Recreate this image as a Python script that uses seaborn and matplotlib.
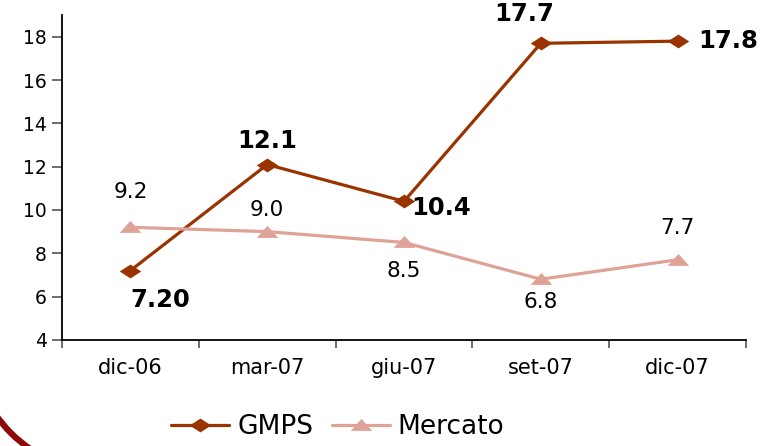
import numpy as np
import pandas as pd
import matplotlib
matplotlib.use('Agg')
import matplotlib.pyplot as plt
import seaborn as sns
from matplotlib.patches import Arc

categories = ['dic-06', 'mar-07', 'giu-07', 'set-07', 'dic-07']
gmps = [7.2, 12.1, 10.4, 17.7, 17.8]
mercato = [9.2, 9.0, 8.5, 6.8, 7.7]
gmps_labels = ['7.20', '12.1', '10.4', '17.7', '17.8']
mercato_labels = ['9.2', '9.0', '8.5', '6.8', '7.7']
y_ticks = [4, 6, 8, 10, 12, 14, 16, 18]

sns.set_theme(style='white')
plt.rcParams['font.family'] = ['DejaVu Sans']

df = pd.DataFrame({
    'periodo': categories * 2,
    'valore': gmps + mercato,
    'serie': ['GMPS'] * len(gmps) + ['Mercato'] * len(mercato),
})
df['x'] = df.groupby('serie').cumcount()

palette = {'GMPS': '#993300', 'Mercato': '#DFA296'}
# wide diamond / wide triangle (the original is stretched horizontally)
diamond = [(-1.55, 0), (0, 1), (1.55, 0), (0, -1), (-1.55, 0)]
triangle = [(-1.8, -0.9), (1.8, -0.9), (0, 1.1), (-1.8, -0.9)]

fig = plt.figure(figsize=(7.75, 4.46), dpi=100)
ax = fig.add_axes([0.08, 0.238, 0.8826, 0.728])

sns.lineplot(data=df, x='x', y='valore', hue='serie', style='serie',
             markers={'GMPS': diamond, 'Mercato': triangle}, dashes=False,
             palette=palette, linewidth=2.3, markersize=15.5,
             markeredgewidth=0, ax=ax)

ax.set_xlim(-0.5, 4.5)
ax.set_ylim(4, 19)
ax.set_yticks(y_ticks)
ax.set_yticklabels([str(t) for t in y_ticks], fontsize=13.5, color='black')
ax.set_xticks(range(len(categories)))
ax.set_xticklabels(categories, fontsize=15, color='black')
ax.tick_params(axis='x', length=0, pad=13)
ax.tick_params(axis='y', left=True, length=7, width=1.2, color='#555555', pad=4)
# ticks on the category boundaries
ax.set_xticks(np.arange(-0.5, 5.0, 1.0), minor=True)
ax.tick_params(axis='x', which='minor', bottom=True, length=6, width=1.2, color='#555555')
ax.set_xlabel('')
ax.set_ylabel('')
for s in ['top', 'right']:
    ax.spines[s].set_visible(False)
for s in ['left', 'bottom']:
    ax.spines[s].set_color('black')
    ax.spines[s].set_linewidth(1.3)

# etichette GMPS
g_off = [(0.22, -1.36), (0, 1.1), (0.27, -0.32), (-0.12, 1.37), (0.37, 0)]
for i, (v, lab) in enumerate(zip(gmps, gmps_labels)):
    dx, dy = g_off[i]
    ax.text(i + dx, v + dy, lab, ha='center', va='center', fontsize=17.5,
            fontweight='bold', color='black')

# etichette Mercato
m_off = [(0, 1.62), (0, 1.0), (0, -1.3), (0, -1.05), (0, 1.46)]
for i, (v, lab) in enumerate(zip(mercato, mercato_labels)):
    dx, dy = m_off[i]
    ax.text(i + dx, v + dy, lab, ha='center', va='center', fontsize=15.5,
            color='black')

ax.legend(loc='center', bbox_to_anchor=(338 / 775, 1 - 427 / 446),
          bbox_transform=fig.transFigure, ncol=2, frameon=False,
          fontsize=19, handlelength=2.2, handletextpad=0.3, columnspacing=0.7,
          borderaxespad=0, borderpad=0, labelcolor='black')

# angolo arrotondato della cornice in basso a sinistra
arc = Arc((105 / 775, 1 - 339 / 446), 2 * 133 / 775, 2 * 133 / 446,
          theta1=180, theta2=270, transform=fig.transFigure,
          edgecolor='#8C0A0A', linewidth=4.5)
fig.patches.append(arc)

fig.savefig('out.png', dpi=100)
